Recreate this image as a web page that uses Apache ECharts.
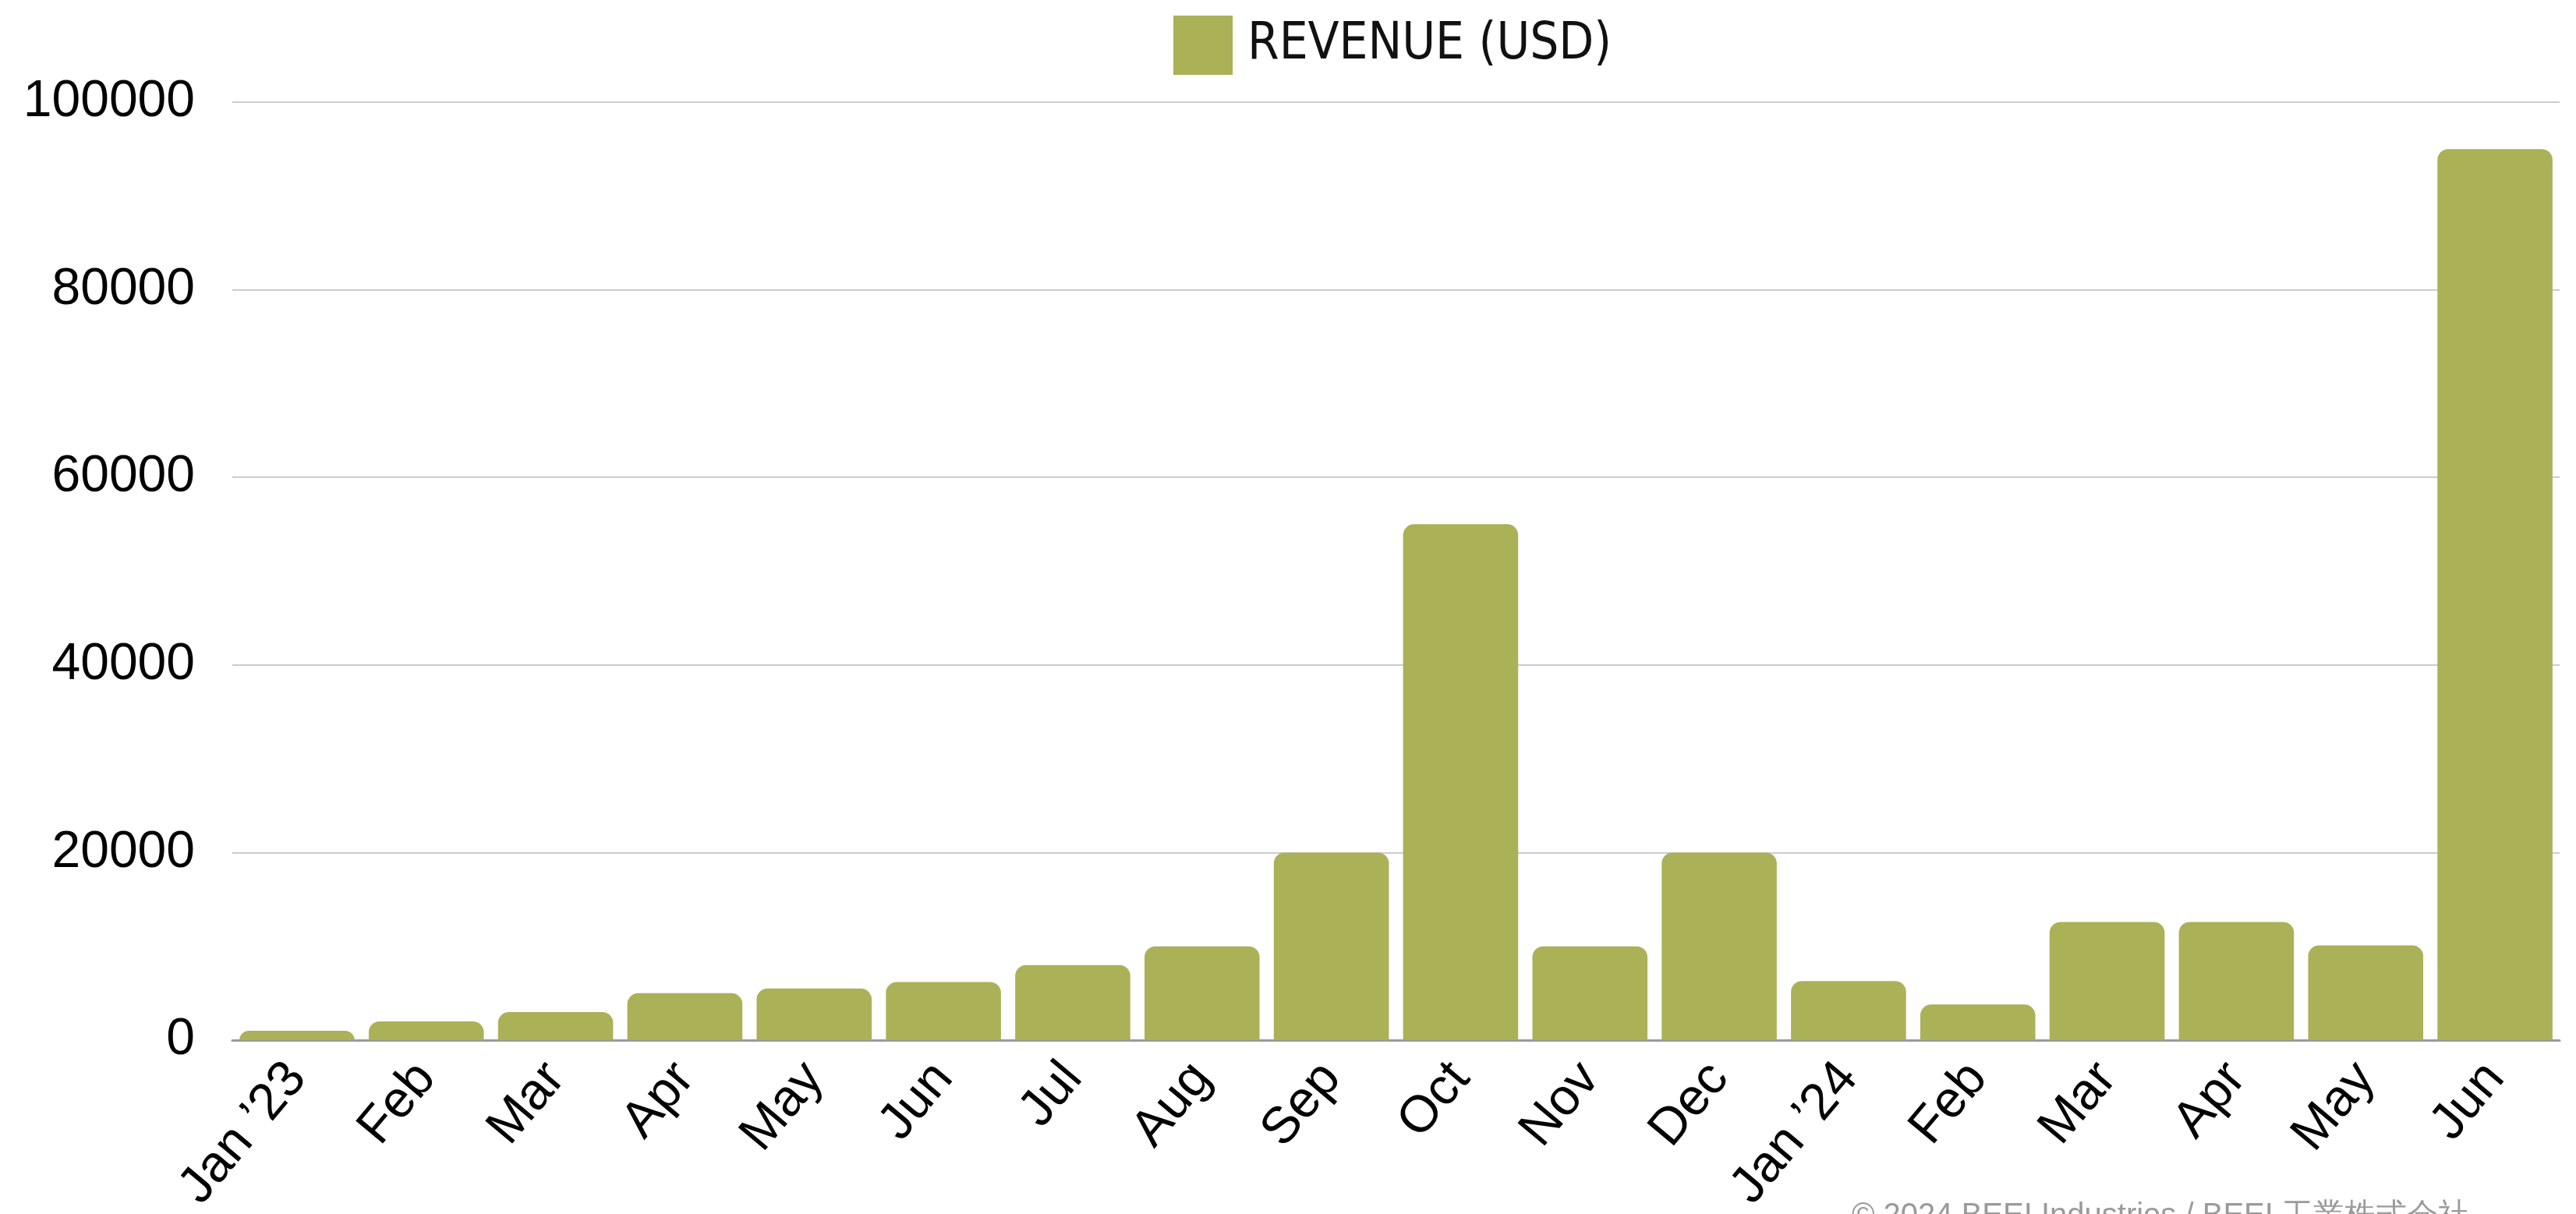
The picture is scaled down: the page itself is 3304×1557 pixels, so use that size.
<!DOCTYPE html>
<html>
<head>
<meta charset="utf-8">
<script src="https://cdn.jsdelivr.net/npm/echarts@6/dist/echarts.min.js"></script>
<style>
  html, body { margin: 0; padding: 0; background: #fff; }
  #chart { width: 3304px; height: 1557px; }
</style>
</head>
<body>
<div id="chart"></div>
<script>
  'use strict';

  var months = ['Jan \u201923', 'Feb', 'Mar', 'Apr', 'May', 'Jun', 'Jul', 'Aug', 'Sep', 'Oct',
                'Nov', 'Dec', 'Jan \u201924', 'Feb', 'Mar', 'Apr', 'May', 'Jun'];
  var revenue = [1000, 2000, 3000, 5000, 5500, 6200, 8000, 10000, 20000, 55000,
                 10000, 20000, 6300, 3800, 12600, 12600, 10100, 95000];
  var seriesName = 'REVENUE (USD)';
  var yMin = 0, yMax = 100000, yStep = 20000;
  var copyright = '\u00a9 2024 BEEI Industries / BEEI \u5de5\u696d\u682a\u5f0f\u4f1a\u793e';

  var font = '"Liberation Sans", Arial, sans-serif';
  var chart = echarts.init(document.getElementById('chart'));

  chart.setOption({
    animation: false,
    backgroundColor: '#fff',
    textStyle: { fontFamily: font },
    legend: {
      left: 1500,
      top: 15,
      itemWidth: 76,
      itemHeight: 76,
      itemGap: 20,
      textStyle: {
        fontSize: 65, color: '#111', padding: [0, 0, 0, 14],
        fontFamily: '"Liberation Sans Narrow", "DejaVu Sans Condensed", sans-serif'
      },
      data: [{ name: seriesName, icon: 'rect' }]
    },
    grid: {
      left: 298, right: 21, top: 131, bottom: 223,
      containLabel: false, outerBoundsMode: 'none'
    },
    xAxis: {
      type: 'category',
      data: months,
      axisLine: { lineStyle: { color: '#9a9a9a', width: 3 } },
      axisTick: { show: false },
      axisLabel: { rotate: 50, fontSize: 66, color: '#000', margin: 38, interval: 0 }
    },
    yAxis: {
      type: 'value',
      min: yMin,
      max: yMax,
      interval: yStep,
      axisLine: { show: false },
      axisTick: { show: false },
      axisLabel: {
        fontSize: 66, color: '#000', margin: 48,
        formatter: function (v) { return String(v); }
      },
      splitLine: { lineStyle: { color: '#cccccc', width: 2 } }
    },
    series: [{
      name: seriesName,
      type: 'bar',
      data: revenue,
      barCategoryGap: '11%',
      itemStyle: { color: '#abb156', borderRadius: [14, 14, 0, 0] }
    }],
    graphic: [{
      type: 'text',
      left: 2375,
      top: 1540,
      style: { text: copyright, fontSize: 40, fill: '#9a9a9a', fontFamily: font }
    }]
  });
</script>
</body>
</html>
